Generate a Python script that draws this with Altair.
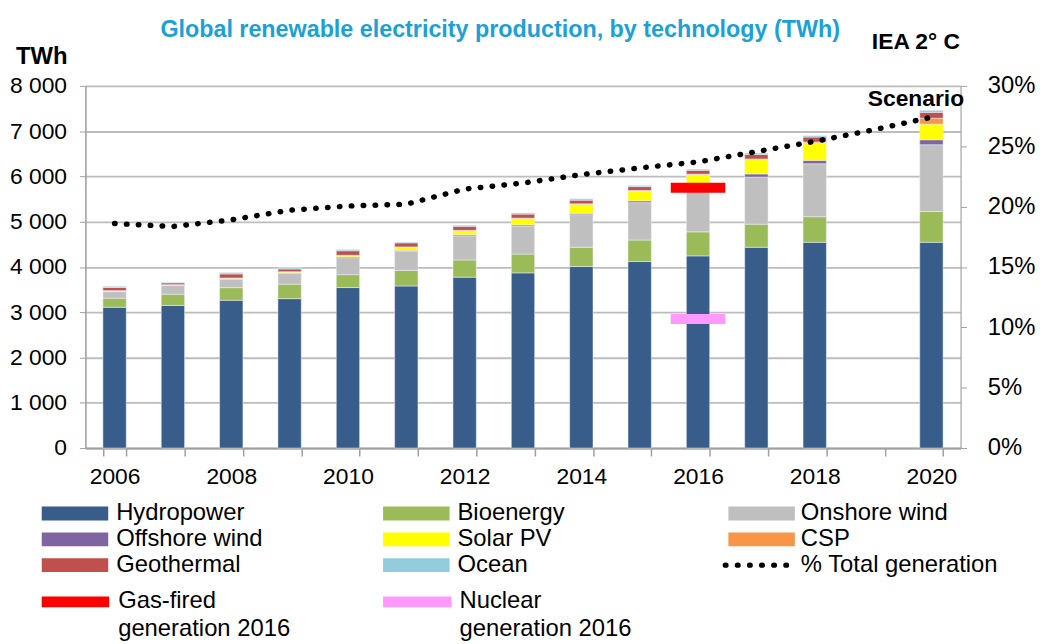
import altair as alt
import pandas as pd

# ---------------- data ----------------
all_years = [str(y) for y in range(2006, 2021)]
bar_years = ["2006", "2007", "2008", "2009", "2010", "2011", "2012",
             "2013", "2014", "2015", "2016", "2017", "2018", "2020"]

techs = ["Hydropower", "Bioenergy", "Onshore wind", "Offshore wind",
         "Solar PV", "CSP", "Geothermal", "Ocean"]
tech_colors = ["#385d8a", "#9bbb59", "#bfbfbf", "#8064a2",
               "#ffff00", "#f79646", "#c0504d", "#93cddd"]

hydro    = [3110, 3150, 3265, 3300, 3545, 3580, 3775, 3870, 4010, 4120, 4245, 4435, 4545, 4545]
bio      = [200, 248, 278, 320, 285, 345, 380, 415, 425, 475, 530, 510, 565, 680]
onshore  = [145, 195, 185, 240, 375, 423, 533, 620, 720, 825, 940, 1040, 1170, 1475]
offshore = [5, 6, 10, 12, 20, 20, 25, 25, 30, 40, 45, 70, 75, 110]
solar    = [15, 8, 15, 20, 30, 70, 90, 140, 200, 220, 280, 315, 385, 345]
csp      = [2, 2, 3, 3, 3, 5, 5, 8, 10, 10, 10, 15, 20, 130]
geo      = [70, 40, 90, 60, 100, 90, 90, 90, 80, 85, 85, 100, 110, 130]
ocean    = [25, 12, 30, 30, 30, 15, 25, 25, 30, 25, 25, 30, 30, 45]
series = [hydro, bio, onshore, offshore, solar, csp, geo, ocean]

pct_total = [18.6, 18.35, 18.9, 19.7, 20.05, 20.2, 21.45, 21.95, 22.65,
             23.2, 23.7, 24.55, 25.4, 26.35, 27.4]

gas_2016 = 5750
nuclear_2016 = 2850

# ---------------- tables ----------------
rows = []
for i, yr in enumerate(bar_years):
    for j, (t, vals) in enumerate(zip(techs, series)):
        rows.append({"year": yr, "tech": t, "idx": j, "twh": vals[i]})
bars_df = pd.DataFrame(rows)
line_df = pd.DataFrame({"year": all_years, "pct": pct_total})
gas_df = pd.DataFrame({"year": ["2016"], "twh": [gas_2016]})
nuc_df = pd.DataFrame({"year": ["2016"], "twh": [nuclear_2016]})
dummy = pd.DataFrame({"a": [0]})

FONT = "Liberation Sans"
GRID = "#bdbdbd"
AXC = "#a0a0a0"

x_enc = alt.X(
    "year:O",
    scale=alt.Scale(domain=all_years, paddingInner=0.6, paddingOuter=0.3),
    axis=alt.Axis(
        title=None, labelAngle=0, grid=False, tickBand="extent",
        labelExpr="toNumber(datum.value) % 2 == 0 ? datum.label : ''",
        tickSize=8, tickColor=AXC, tickWidth=1.5, domainColor=AXC, domainWidth=2,
        labelFontSize=23, labelFont=FONT, labelColor="#000", labelPadding=10,
    ),
)

left_scale = alt.Scale(domain=[0, 8000], nice=False, zero=True)

bars = alt.Chart(bars_df).mark_bar(stroke="#eef3fa", strokeWidth=0.5).encode(
    x=x_enc,
    y=alt.Y(
        "twh:Q", stack="zero", scale=left_scale,
        axis=alt.Axis(
            title=None, values=list(range(0, 8001, 1000)),
            labelExpr="replace(format(datum.value, ','), ',', ' ')",
            grid=True, gridColor=GRID, gridWidth=1.8,
            domainColor=AXC, domainWidth=1.5, tickColor=AXC, tickSize=6,
            labelFontSize=23, labelFont=FONT, labelColor="#000", labelPadding=13,
        ),
    ),
    color=alt.Color("tech:N", scale=alt.Scale(domain=techs, range=tech_colors), legend=None),
    order=alt.Order("idx:Q", sort="ascending"),
)

gas = alt.Chart(gas_df).mark_tick(color="#ff0000", thickness=10, size=55, opacity=1).encode(
    x=x_enc, y=alt.Y("twh:Q", scale=left_scale, axis=None)
)
nuc = alt.Chart(nuc_df).mark_tick(color="#ff99ff", thickness=10, size=55, opacity=1).encode(
    x=x_enc, y=alt.Y("twh:Q", scale=left_scale, axis=None)
)

line = alt.Chart(line_df).mark_line(
    color="#000", strokeWidth=5.5, strokeCap="round", strokeDash=[0.5, 11.5]
).encode(
    x=x_enc,
    y=alt.Y(
        "pct:Q", scale=alt.Scale(domain=[0, 30], nice=False),
        axis=alt.Axis(
            orient="right", title=None, values=[0, 5, 10, 15, 20, 25, 30],
            labelExpr="datum.value + '%'", grid=False,
            domainColor=AXC, domainWidth=1, tickColor=AXC, tickSize=6,
            labelFontSize=24, labelFont=FONT, labelColor="#000", labelPadding=21,
        ),
    ),
)


def txt(s, x, y, size=24, bold=False, align="left", color="#000"):
    return alt.Chart(dummy).mark_text(
        text=s, font=FONT, fontSize=size, fontWeight="bold" if bold else "normal",
        align=align, baseline="middle", color=color,
    ).encode(x=alt.value(x), y=alt.value(y))


def rect(x, w, y, h, color):
    return alt.Chart(dummy).mark_rect(color=color).encode(
        x=alt.value(x), x2=alt.value(x + w), y=alt.value(y - h / 2), y2=alt.value(y + h / 2)
    )


layers = [bars, gas, nuc, line]

# annotations
layers.append(txt("Global renewable electricity production, by technology (TWh)",
                  418, -56, size=23.5, bold=True, align="center", color="#1ba1d6"))
layers.append(txt("TWh", -18, -29, size=24, bold=True, align="right"))
layers.append(txt("IEA 2° C", 837, -44, size=23, bold=True, align="center"))
layers.append(txt("Scenario", 837, 13, size=23, bold=True, align="center"))

# legend (layout constants)
sym_x = [-44, 300, 648]
lab_x = [31, 375, 721]
row_y = [431, 457, 483]
grid_items = [
    ("Hydropower", 0, 0, tech_colors[0]), ("Bioenergy", 1, 0, tech_colors[1]),
    ("Onshore wind", 2, 0, tech_colors[2]), ("Offshore wind", 0, 1, tech_colors[3]),
    ("Solar PV", 1, 1, tech_colors[4]), ("CSP", 2, 1, tech_colors[5]),
    ("Geothermal", 0, 2, tech_colors[6]), ("Ocean", 1, 2, tech_colors[7]),
]
for name, c, r, col in grid_items:
    layers.append(rect(sym_x[c], 67, row_y[r], 14, col))
    layers.append(txt(name, lab_x[c], row_y[r]))

layers.append(alt.Chart(dummy).mark_rule(
    color="#000", strokeWidth=5.5, strokeCap="round", strokeDash=[0.5, 11.7]
).encode(x=alt.value(645), x2=alt.value(708), y=alt.value(row_y[2])))
layers.append(txt("% Total generation", lab_x[2], row_y[2]))

layers.append(rect(sym_x[0], 68, 520, 11, "#ff0000"))
layers.append(txt("Gas-fired", lab_x[0] + 2, 519))
layers.append(txt("generation 2016", lab_x[0] + 2, 547))
layers.append(rect(sym_x[1], 69, 520, 11, "#ff99ff"))
layers.append(txt("Nuclear", lab_x[1] + 2, 519))
layers.append(txt("generation 2016", lab_x[1] + 2, 547))

chart = alt.layer(*layers).resolve_scale(y="independent").properties(
    width=882, height=365,
    autosize=alt.AutoSizeParams(type="none"),
    padding={"left": 78, "top": 76, "right": 75, "bottom": 195},
).configure_view(stroke=None).configure(background="white")

chart.save("out.html", embed_options={"renderer": "svg", "actions": False})
